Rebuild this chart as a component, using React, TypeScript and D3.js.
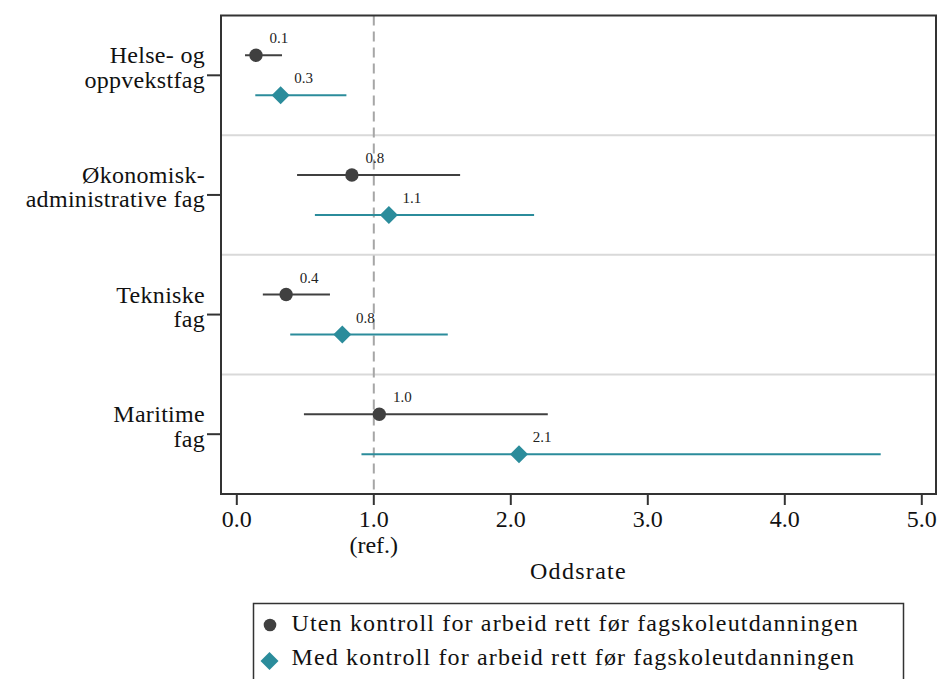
import React from "react";
import * as d3 from "d3";

const categories = [
  ["Helse- og", "oppvekstfag"],
  ["Økonomisk-", "administrative fag"],
  ["Tekniske", "fag"],
  ["Maritime", "fag"],
];
const utenEst = [0.14, 0.84, 0.36, 1.04];
const utenLow = [0.06, 0.44, 0.19, 0.49];
const utenHigh = [0.33, 1.63, 0.68, 2.27];
const medEst = [0.32, 1.11, 0.77, 2.06];
const medLow = [0.135, 0.57, 0.39, 0.91];
const medHigh = [0.8, 2.17, 1.54, 4.7];
const xTicks = [0, 1, 2, 3, 4, 5];
const legendLabels = [
  "Uten kontroll for arbeid rett før fagskoleutdanningen",
  "Med kontroll for arbeid rett før fagskoleutdanningen",
];

const W = 938;
const H = 679;
const FONT = "'Liberation Serif', 'Times New Roman', serif";
const DARK = "#404040";
const TEAL = "#2b8c9b";

export default function App() {
  const left = 221;
  const right = 936;
  const top = 15.5;
  const bottom = 494;
  const x = d3.scaleLinear().domain([0, 5]).range([236.8, 921.8]);
  const y = d3
    .scaleBand<number>()
    .domain(categories.map((_, i) => i))
    .range([top, bottom])
    .padding(0);
  const fmt = d3.format(".1f");
  const diamond = (cx: number, cy: number, r: number) =>
    `M${cx},${cy - r}L${cx + r},${cy}L${cx},${cy + r}L${cx - r},${cy}Z`;

  return (
    <svg
      width={W}
      height={H}
      style={{ position: "absolute", left: 0, top: 0, display: "block", background: "#fff" }}
      fontFamily={FONT}
    >
      {/* gridlines between categories */}
      {categories.slice(1).map((_, i) => (
        <line
          key={"g" + i}
          x1={left}
          x2={right}
          y1={y(i + 1)!}
          y2={y(i + 1)!}
          stroke="#d9d9d9"
          strokeWidth={2}
        />
      ))}
      {/* reference line */}
      <line
        x1={x(1)}
        x2={x(1)}
        y1={top}
        y2={bottom}
        stroke="#a6a6a6"
        strokeWidth={2}
        strokeDasharray="10,6"
      />
      {/* series */}
      {categories.map((_, i) => {
        const c = y(i)! + y.bandwidth() / 2;
        const y1 = c - 20;
        const y2 = c + 20;
        return (
          <g key={"s" + i}>
            <line x1={x(utenLow[i])} x2={x(utenHigh[i])} y1={y1} y2={y1} stroke={DARK} strokeWidth={2} />
            <circle cx={x(utenEst[i])} cy={y1} r={6.7} fill={DARK} />
            <text x={x(utenEst[i]) + 23} y={y1 - 12} textAnchor="middle" fontSize={15} fill="#222">
              {fmt(utenEst[i])}
            </text>
            <line x1={x(medLow[i])} x2={x(medHigh[i])} y1={y2} y2={y2} stroke={TEAL} strokeWidth={2} />
            <path d={diamond(x(medEst[i]), y2, 9)} fill={TEAL} />
            <text x={x(medEst[i]) + 23} y={y2 - 12} textAnchor="middle" fontSize={15} fill="#222">
              {fmt(medEst[i])}
            </text>
          </g>
        );
      })}
      {/* frame */}
      <rect x={left} y={top} width={right - left} height={bottom - top} fill="none" stroke="#333" strokeWidth={2} />
      {/* y axis ticks & labels */}
      {categories.map((lines, i) => {
        const c = y(i)! + y.bandwidth() / 2;
        return (
          <g key={"y" + i}>
            <line x1={207} x2={left} y1={c} y2={c} stroke="#333" strokeWidth={2} />
            <text x={205} y={c - 12} textAnchor="end" fontSize={24} letterSpacing={0.3} fill="#111">
              {lines[0]}
            </text>
            <text x={205} y={c + 12.5} textAnchor="end" fontSize={24} letterSpacing={0.3} fill="#111">
              {lines[1]}
            </text>
          </g>
        );
      })}
      {/* x axis ticks */}
      {xTicks.map((t) => (
        <g key={"x" + t}>
          <line x1={x(t)} x2={x(t)} y1={bottom} y2={bottom + 11} stroke="#333" strokeWidth={2} />
          <text x={x(t)} y={527} textAnchor="middle" fontSize={24} fill="#111">
            {fmt(t)}
          </text>
        </g>
      ))}
      <text x={x(1)} y={553} textAnchor="middle" fontSize={24} fill="#111">
        (ref.)
      </text>
      <text x={(left + right) / 2} y={579} textAnchor="middle" fontSize={24} letterSpacing={1.3} fill="#111">
        Oddsrate
      </text>
      {/* legend */}
      <rect x={253.5} y={603.5} width={650} height={100} fill="#fff" stroke="#333" strokeWidth={1.5} />
      <circle cx={270} cy={625} r={6.3} fill={DARK} />
      <text x={291.5} y={631} fontSize={24} letterSpacing={1.15} fill="#111">
        {legendLabels[0]}
      </text>
      <path d={diamond(269.5, 661, 9)} fill={TEAL} />
      <text x={291.5} y={665} fontSize={24} letterSpacing={1.15} fill="#111">
        {legendLabels[1]}
      </text>
    </svg>
  );
}
